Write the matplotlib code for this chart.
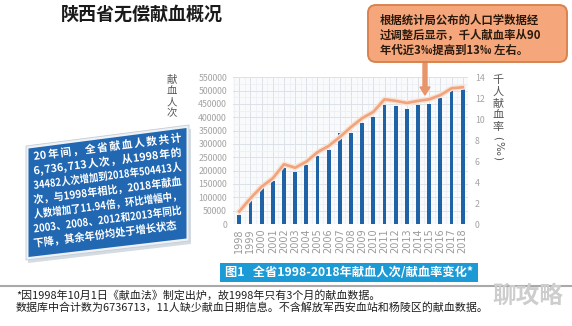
import numpy as np
import matplotlib
matplotlib.use("Agg")
import matplotlib.pyplot as plt
import matplotlib.patheffects as pe
from matplotlib.patches import Polygon, FancyBboxPatch, FancyArrow, PathPatch, Rectangle
from matplotlib.textpath import TextPath
from matplotlib.font_manager import FontProperties
from matplotlib.transforms import Affine2D
from matplotlib.ticker import MultipleLocator, FixedLocator

plt.rcParams['font.family'] = ['Noto Sans CJK SC', 'DejaVu Sans']

# ---- data ----
years = [str(y) for y in range(1998, 2019)]
donations = [34482, 86000, 136000, 161000, 209000, 196000, 220000, 255000,
             277000, 342000, 340000, 380000, 400000, 446000, 442000, 433000,
             446000, 450000, 471000, 500000, 504413]
rate = [1.2, 2.45, 3.56, 4.36, 5.7, 5.37, 5.95, 6.85, 7.45, 8.3, 9.25,
        10.1, 10.7, 11.9, 11.75, 11.55, 11.75, 11.9, 12.3, 12.95, 13.05]
left_ticks = list(range(0, 550001, 50000))
right_ticks = list(range(0, 15, 2))

title = '陕西省无偿献血概况'
note_lines = ['根据统计局公布的人口学数据经',
              '过调整后显示，千人献血率从90',
              '年代近3‰提高到13‰ 左右。']
box_lines = ['20 年 间 ， 全 省 献 血 人 数 共 计',
             '6, 736, 713 人 次 ， 从 1998 年 的',
             '34482人次增加到2018年504413人',
             '次，与1998年相比， 2018年献血',
             '人数增加了11. 94倍，环比增幅中，',
             '2003、 2008、 2012和2013年同比',
             '下降，其余年份均处于增长状态']
caption = '图1   全省1998-2018年献血人次/献血率变化*'
footnotes = ['*因1998年10月1日《献血法》制定出炉，故1998年只有3个月的献血数据。',
             '数据库中合计数为6736713，11人缺少献血日期信息。不含解放军西安血站和杨陵区的献血数据。']

W, H = 572, 326
fig = plt.figure(figsize=(W / 100, H / 100), dpi=100)
fig.patch.set_facecolor('white')


def frame(x0, y0, x1, y1):
    return [x0 / W, 1 - y1 / H, (x1 - x0) / W, (y1 - y0) / H]


# ---- main chart ----
ax = fig.add_axes(frame(233, 77.3, 468, 224))
x = np.arange(len(years))
ax.bar(x, donations, width=0.34, color='#1f62a6', zorder=3)
ax.set_xlim(-0.56, 20.47)
ax.set_ylim(0, 550000)
ax.set_facecolor('#f8fafc')
ax.set_axisbelow(True)
ax.set_yticks(left_ticks)
ax.set_yticklabels([str(v) for v in left_ticks])
ax.yaxis.set_minor_locator(MultipleLocator(25000))
ax.set_xticks(x)
ax.set_xticklabels(years, rotation=90, fontsize=7, color='#9a9a9a',
                   family=['DejaVu Sans'])
ax.xaxis.set_minor_locator(FixedLocator(np.arange(-0.5, 20.6, 0.5)))
ax.grid(which='major', color='#dde2e8', lw=0.7)
ax.grid(which='minor', color='#ebeef2', lw=0.5)
ax.tick_params(axis='both', which='both', length=0)
ax.tick_params(axis='y', labelsize=6.3, labelcolor='#a3a3a3', pad=4.3)
ax.tick_params(axis='x', pad=3)
for s in ax.spines.values():
    s.set_visible(False)

ax2 = ax.twinx()
ax2.plot(x, rate, color='#f1a47c', lw=1.9, zorder=4,
         path_effects=[pe.Stroke(linewidth=3.8, foreground='#fbe1d3'), pe.Normal()])
ax2.set_ylim(0, 14)
ax2.set_yticks(right_ticks)
ax2.set_yticklabels([str(v) for v in right_ticks])
ax2.tick_params(axis='y', length=0, labelsize=6.3, labelcolor='#a3a3a3', pad=5)
for s in ax2.spines.values():
    s.set_visible(False)

# ---- overlay in pixel coordinates ----
ov = fig.add_axes([0, 0, 1, 1], zorder=10)
ov.set_xlim(0, W)
ov.set_ylim(H, 0)
ov.axis('off')
ov.patch.set_alpha(0)

ov.text(142, 14, title, fontsize=13, weight='bold', color='#1a1a1a',
        ha='center', va='center')

# axis titles written vertically
for i, ch in enumerate('献血人次'):
    ov.text(172, 80 + 11 * i, ch, fontsize=7.5, color='#555555',
            ha='center', va='center')
for i, ch in enumerate('千人献血率'):
    ov.text(498, 80 + 11.8 * i, ch, fontsize=8, color='#555555',
            ha='center', va='center')
for yy, ch in zip([138, 148, 158], ['(', '‰', ')']):
    ov.text(498, yy, ch, fontsize=7.5, color='#555555', rotation=-90,
            ha='center', va='center', family=['DejaVu Sans'])

# callout box with arrow
ov.add_patch(FancyArrow(425, 58, 0, 37, width=4, head_width=10, head_length=8,
                        length_includes_head=True, color='#e8956a', zorder=1))
ov.add_patch(FancyBboxPatch((368, 5), 199, 57,
                            boxstyle='round,pad=0,rounding_size=8',
                            fc='#f5a67b', ec='#d8834f', lw=1.4, zorder=2))
for i, line in enumerate(note_lines):
    ov.text(380, 20 + 15 * i, line, fontsize=8.2, weight='bold',
            color='#2a1a0e', ha='left', va='center', zorder=3)

# slanted blue summary panel
ov.add_patch(Polygon([(28, 150), (191, 129), (191, 244), (28, 263)],
                     closed=True, fc='#c3ccd6', ec='none', alpha=0.7))
ov.add_patch(Polygon([(26, 146), (189, 125), (189, 241), (26, 260)],
                     closed=True, fc='#eef2f6', ec='#c4ccd4', lw=0.6))
ov.add_patch(Polygon([(28.5, 148.5), (186.5, 128), (186.5, 238.5), (28.5, 257)],
                     closed=True, fc='#2167b1', ec='none'))

fp_bold = FontProperties(family='Noto Sans CJK SC', weight='bold')


def tokenize(s):
    toks, buf = [], ''
    for ch in s:
        if ch == ' ':
            if buf:
                toks.append(buf)
                buf = ''
        elif ord(ch) < 128:
            buf += ch
        else:
            if buf:
                toks.append(buf)
                buf = ''
            toks.append(ch)
    if buf:
        toks.append(buf)
    return toks


def justified_line(text, x0, y0, length, angle, size, color):
    toks = tokenize(text)
    paths, widths = [], []
    for t in toks:
        p = TextPath((0, 0), t, size=size, prop=fp_bold)
        paths.append(p)
        if ord(t[0]) >= 128:
            widths.append(size)
        else:
            widths.append(p.get_extents().x1 + 0.08 * size)
    total = sum(widths)
    n = len(toks)
    gap = (length - total) / (n - 1) if n > 1 else 0
    sx = 1.0
    if gap < 0:
        sx = length / total
        gap = 0
    base = Affine2D().scale(1, -1).rotate_deg(-angle).translate(x0, y0)
    pos = 0.0
    for p, w in zip(paths, widths):
        tr = Affine2D().scale(sx, 1).translate(pos, 0) + base
        ov.add_patch(PathPatch(tr.transform_path(p), fc=color, ec='none', lw=0))
        pos += w * sx + gap


for i, line in enumerate(box_lines):
    length = 149 if i < len(box_lines) - 1 else 144
    justified_line(line, 34, 160 + 14.5 * i, length, 7.2, 10.8, 'white')

# caption banner
ov.add_patch(Rectangle((220, 263), 258, 19, fc='#1b9ad6', ec='none'))
ov.text(225, 272.5, caption, fontsize=8.8, weight='bold', color='white',
        ha='left', va='center')

ov.plot([0, W], [285.5, 285.5], color='#a9a9a9', lw=1.5)

for i, line in enumerate(footnotes):
    ov.text(16, 295 + 12.5 * i, line, fontsize=7.9, color='#1e1e1e',
            ha='left', va='center')

ov.text(528, 296, '聊攻略', fontsize=17, weight='bold', color='#cdcdcd',
        ha='center', va='center')

fig.savefig('out.png', dpi=100)
